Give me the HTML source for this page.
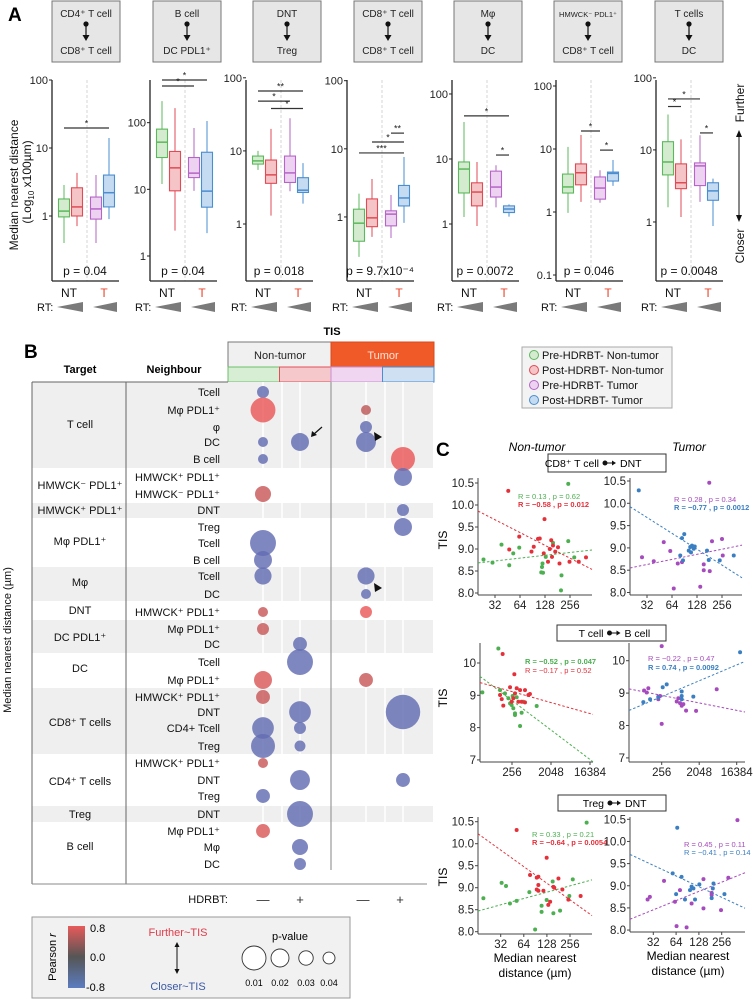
<!DOCTYPE html>
<html><head><meta charset="utf-8">
<style>
html,body{margin:0;padding:0;background:#fff;}
svg{display:block;font-family:"Liberation Sans",Arial,sans-serif;}
</style></head>
<body>
<svg id="fig" width="754" height="1000" viewBox="0 0 754 1000" xmlns="http://www.w3.org/2000/svg">
<g id="panelA"></g>
<g id="panelB"></g>
<g id="panelC"></g>
</svg>
<script>
// ===== Panel A data =====
const aHeaderTop = ["CD4⁺ T cell","B cell","DNT","CD8⁺ T cell","Mφ","HMWCK⁻ PDL1⁺","T cells"];
const aHeaderBottom = ["CD8⁺ T cell","DC PDL1⁺","Treg","CD8⁺ T cell","DC","CD8⁺ T cell","DC"];
const aPValues = ["p = 0.04","p = 0.04","p = 0.018","p = 9.7x10⁻⁴","p = 0.0072","p = 0.046","p = 0.0048"];
// log10 domain of each y axis [min,max]
const aLogDomain = [[-0.956,2.0],[-0.375,2.64],[-0.78,1.97],[-0.94,2.01],[-0.877,2.215],[-1.095,2.095],[-0.819,1.97]];
const aTicks = [[1,10,100],[1,10,100],[1,10,100],[1,10,100],[1,10,100],[0.1,1,10,100],[1,10,100]];
// boxes per panel: [low, q1, median, q3, high] for Pre-NT, Post-NT, Pre-T, Post-T
const aBoxes1 = [[0.40,0.97,1.18,1.78,2.86],[0.71,1.0,1.36,2.6,4.3],[0.40,0.9,1.27,1.9,4.0],[0.9,1.36,2.2,4.0,14]];
const aBoxes2 = [[12,30,51,80,210],[2.4,9.5,21,37,165],[9.5,15,17.5,30,83],[2.2,5.4,9.4,36,106]];
const aBoxes3 = [[5.5,6.6,7.3,8.5,10],[1.3,3.6,4.7,7.5,20],[2.8,3.7,5.0,8.5,28],[1.9,2.7,2.9,4.3,6.8]];
const aBoxes4 = [[0.26,0.44,0.81,1.3,2.2],[0.51,0.72,0.97,1.84,3.6],[0.49,0.74,1.1,1.23,2.1],[0.82,1.45,1.9,2.9,7.6]];
const aBoxes5 = [[1.28,3.0,7.0,9.0,37],[0.93,1.9,3.1,4.3,9.0],[1.8,2.6,3.7,6.5,8.0],[1.3,1.5,1.7,1.9,2.0]];
const aBoxes6 = [[0.97,2.0,2.5,4.0,10.8],[1.45,2.7,4.2,5.8,16.7],[1.4,1.6,2.4,3.6,4.6],[2.6,3.1,4.1,4.3,6.7]];
const aBoxes7 = [[1.6,4.5,6.8,13,31],[1.17,2.9,3.5,6.4,14],[1.9,3.2,6.0,6.6,16],[0.88,2.0,2.7,3.5,4.0]];
const aBoxes = [aBoxes1,aBoxes2,aBoxes3,aBoxes4,aBoxes5,aBoxes6,aBoxes7];
// significance bars: [fromGroup, toGroup, value, label]
const aSig = [
 [[0,3,19.7,"*"]],
 [[0,3,436,"*"],[0,2,355,"*"]],
 [[0,3,66,"**"],[0,2,48,"*"],[1,3,38,"*"]],
 [[2,3,17,"**"],[1,3,12.6,"*"],[0,3,8.7,"***"]],
 [[0,3,46,"*"],[2,3,11.5,"*"]],
 [[1,2,19.3,"*"],[2,3,9.6,"*"]],
 [[0,2,51,"*"],[0,1,40,"*"],[2,3,17.2,"*"]]
];

// ===== Panel B data =====
const bNeighbours = ["Tcell","Mφ PDL1⁺","φ","DC","B cell","HMWCK⁺ PDL1⁺","HMWCK⁻ PDL1⁺","DNT","Treg","Tcell","B cell","Tcell","DC","HMWCK⁺ PDL1⁺","Mφ PDL1⁺","DC","Tcell","Mφ PDL1⁺","HMWCK⁺ PDL1⁺","DNT","CD4+ Tcell","Treg","HMWCK⁺ PDL1⁺","DNT","Treg","DNT","Mφ PDL1⁺","Mφ","DC"];
const bTargets = ["T cell","HMWCK⁻ PDL1⁺","HMWCK⁺ PDL1⁺","Mφ PDL1⁺","Mφ","DNT","DC PDL1⁺","DC","CD8⁺ T cells","CD4⁺ T cells","Treg","B cell"];
const bBubbleRow = [0,1,1,2,3,3,3,4,4,5,6,7,8,9,10,11,11,12,13,13,14,15,16,17,17,18,19,19,20,20,21,21,22,23,23,24,25,26,27,28];
const bBubbleCol = [0,0,2,2,0,1,2,0,3,3,0,3,3,0,0,0,2,2,0,2,0,1,1,0,2,0,1,3,0,1,0,1,0,1,3,0,1,0,1,1];
const bBubbleR = [-0.7,0.8,0.55,-0.7,-0.7,-0.7,-0.7,-0.7,0.8,-0.7,0.6,-0.7,-0.7,-0.7,-0.7,-0.7,-0.7,-0.7,0.6,0.8,0.6,-0.7,-0.7,0.7,0.6,0.6,-0.7,-0.7,-0.7,-0.7,-0.7,-0.7,0.6,-0.7,-0.7,-0.7,-0.7,0.7,-0.7,-0.7];
const bBubbleP = [0.04,0.009,0.05,0.04,0.05,0.02,0.016,0.05,0.01,0.02,0.025,0.04,0.02,0.008,0.02,0.022,0.022,0.05,0.05,0.04,0.04,0.032,0.008,0.02,0.032,0.032,0.013,0.003,0.013,0.04,0.01,0.045,0.05,0.016,0.032,0.032,0.008,0.032,0.025,0.04];
const bLegendP = [0.01,0.02,0.03,0.04];

// ===== Panel C data (x as log2 of median nearest distance µm, y = TIS) =====
const c1GreenX = [4.54,4.9,5.26,5.57,5.73,5.97,6.88,6.9,6.92,6.85,7.32,7.03,7.93,7.93,7.66,7.64,8.17];
const c1GreenY = [8.76,8.69,9.1,8.63,8.9,9.03,8.59,8.67,8.46,8.47,9.14,8.82,10.48,9.18,8.4,8.06,8.81];
const c1RedX = [5.53,5.97,5.57,6.55,6.72,6.79,6.46,6.98,6.95,7.19,7.25,7.32,7.12,7.41,7.52,7.28,7.58,7.98,8.35,8.64];
const c1RedY = [10.32,9.28,8.99,9.05,9.23,9.24,8.94,9.68,8.9,9.0,9.2,9.08,8.71,8.94,9.04,8.82,8.67,8.71,8.71,8.81];
const c2PurpleX = [4.8,5.27,5.67,5.93,6.07,6.23,7.49,7.6,8.0,8.03,7.13,7.27,7.27,7.51,6.4];
const c2PurpleY = [8.79,8.7,9.13,8.93,8.09,8.65,10.46,9.15,9.2,8.83,8.13,8.63,8.5,8.48,8.68];
const c2BlueX = [4.67,6.4,6.49,6.67,6.73,6.8,6.87,6.91,6.76,6.44,6.33,7.4,7.47,7.91,8.47];
const c2BlueY = [10.29,9.22,9.31,8.94,9.02,9.05,8.98,9.03,8.9,8.72,8.83,8.94,8.73,8.72,8.83];
const c3GreenX = [6.95,5.72,7.08,7.46,7.85,7.97,8.10,8.23,8.23,8.62,8.74,8.87,9.90,8.36,8.05,7.72];
const c3GreenY = [10.45,9.09,9.16,9.06,8.75,8.70,8.60,8.39,8.44,8.05,8.46,8.80,8.67,8.94,8.98,8.91];
const c3RedX = [7.28,8.18,7.85,8.36,8.62,9.0,9.26,9.38,7.08,7.21,7.33,7.97,8.49,8.74,9.0,8.1,8.23];
const c3RedY = [10.28,9.65,9.25,9.22,9.16,9.16,9.01,9.04,9.01,8.88,8.68,8.8,8.8,8.8,8.78,8.91,9.06];
const c4PurpleX = [8.0,6.59,6.93,6.8,7.73,7.73,7.87,9.2,9.33,9.47,9.6,9.73,9.95,10.75,12.4,8.0];
const c4PurpleY = [10.45,9.08,9.15,9.02,8.81,8.89,8.91,8.74,8.84,8.69,8.61,8.66,8.46,8.45,9.12,8.05];
const c4BlueX = [14.27,8.4,8.08,6.53,7.07,7.73,9.6,9.6,10.53,9.6];
const c4BlueY = [10.26,9.27,9.18,8.72,8.81,8.87,9.05,8.91,8.89,8.81];
const c5GreenX = [4.25,5.04,5.23,5.4,5.69,6.24,6.77,6.77,6.99,7.25,7.28,7.57,8.12,7.97,8.72,6.49];
const c5GreenY = [8.76,9.11,9.04,8.64,8.7,8.9,8.59,8.45,8.72,9.14,8.42,8.48,9.19,8.81,10.48,8.05];
const c5RedX = [5.69,6.99,6.27,6.56,6.63,6.63,6.56,6.63,6.85,7.06,7.14,7.28,7.5,7.32,7.67,7.93,8.46];
const c5RedY = [10.31,9.68,9.29,9.23,9.25,9.06,8.96,8.93,8.93,8.61,8.68,9.02,9.21,9.0,8.96,8.73,8.81];
const c6PurpleX = [4.75,4.85,5.47,5.95,6.02,6.46,6.17,6.68,7.2,7.2,7.56,7.56,7.97,8.29,8.69];
const c6PurpleY = [8.69,8.75,9.11,8.64,8.09,8.06,8.9,8.6,9.15,8.49,8.84,8.79,8.45,9.18,10.48];
const c6BlueX = [6.05,5.85,6.24,6.0,6.39,6.61,6.68,6.76,6.83,7.02,7.64,7.61,7.56,8.12];
const c6BlueY = [10.31,9.28,9.2,8.81,8.69,8.9,8.98,8.94,8.69,9.03,9.05,8.94,8.72,8.81];
const cTicksA = [8.0,8.5,9.0,9.5,10.0,10.5];
const cTickLabelsA = ["8.0","8.5","9.0","9.5","10.0","10.5"];
const cTicksB = [7,8,9,10];
const cTickLabelsB = ["7","8","9","10"];
const cXTicksA = [5,6,7,8];
const cXTickLabelsA = ["32","64","128","256"];
const cXTicksB = [8,11,14];
const cXTickLabelsB = ["256","2048","16384"];

const NS = "http://www.w3.org/2000/svg";
function mk(tag, attrs, parent, txt){
  const e = document.createElementNS(NS, tag);
  for (const k in attrs) e.setAttribute(k, attrs[k]);
  if (txt !== undefined) e.textContent = txt;
  parent.appendChild(e);
  return e;
}
const gA = document.getElementById('panelA');
const gB = document.getElementById('panelB');
const gC = document.getElementById('panelC');

const COL = {
  green:{s:"#5cb85c",f:"#d4ebd0",d:"#3fa34a"},
  red:{s:"#e04b55",f:"#f5c4c7",d:"#e32b36"},
  purple:{s:"#b565c6",f:"#eed2f2",d:"#a64bbd"},
  blue:{s:"#4a8dd0",f:"#c4dbf1",d:"#3a7fc2"}
};
const groupCols = [COL.green, COL.red, COL.purple, COL.blue];

// ===== Panel A drawing =====
let t;
t = mk('text',{x:8,y:21,'font-size':19,'font-weight':'bold'},gA,"A");



const headerX = [52,153,253,354,454,554,655];
const axisX = [52,150,246,347,452,556,656];
const aTop = 80, aBot = 281, aW = 67;
const boxOff = [12,25,44,57];

for (let i=0;i<7;i++){
  const hx = headerX[i], cx = hx+34;
  const hg = mk('g',{},gA);
  
  
  mk('rect',{x:hx,y:1,width:68,height:61,fill:"#e6e6e6",stroke:"#777","stroke-width":1},hg);
  const fs = aHeaderTop[i].indexOf("HMWCK")===0 ? 7.5 : 10;
  mk('text',{x:cx,y:17,'font-size':fs,'text-anchor':'middle',fill:'#222'},hg,aHeaderTop[i]);
  mk('circle',{cx:cx,cy:24,r:2.6,fill:'#111'},hg);
  mk('line',{x1:cx,y1:24,x2:cx,y2:36,stroke:'#111','stroke-width':1.2},hg);
  mk('polygon',{points:(cx-3.5)+",35 "+(cx+3.5)+",35 "+cx+",41",fill:'#111'},hg);
  mk('text',{x:cx,y:54,'font-size':10,'text-anchor':'middle',fill:'#222'},hg,aHeaderBottom[i]);

  const ax = axisX[i];
  const dom = aLogDomain[i];
  const yS = v => aBot - (Math.log10(v)-dom[0])/(dom[1]-dom[0])*(aBot-aTop);
  const pg = mk('g',{},gA);
  
  
  mk('line',{x1:ax+35,y1:aTop,x2:ax+35,y2:aBot,stroke:'#ccc','stroke-width':0.8,'stroke-dasharray':'3,2'},pg);
  const yl = mk('line',{x1:ax,y1:aTop,x2:ax,y2:aBot,stroke:'#222','stroke-width':1.3},pg);
  
  
  const xl = mk('line',{x1:ax,y1:aBot,x2:ax+aW,y2:aBot,stroke:'#222','stroke-width':1.3},pg);
  
  
  aTicks[i].forEach(v=>{
    const y = yS(v);
    mk('line',{x1:ax-3,y1:y,x2:ax,y2:y,stroke:'#222','stroke-width':1},pg);
    const tl = mk('text',{x:ax-4,y:y+4,'font-size':11,'text-anchor':'end',fill:'#222'},pg,String(v));
    
    
  });
  aBoxes[i].forEach((b,j)=>{
    const c = groupCols[j], bx = ax+boxOff[j], w=11;
    const bg = mk('g',{},pg);
    
    
    mk('line',{x1:bx,y1:yS(b[0]),x2:bx,y2:yS(b[4]),stroke:c.s,'stroke-width':1},bg);
    mk('rect',{x:bx-w/2,y:yS(b[3]),width:w,height:Math.max(1,yS(b[1])-yS(b[3])),fill:c.f,stroke:c.s,'stroke-width':1.1},bg);
    mk('line',{x1:bx-w/2,y1:yS(b[2]),x2:bx+w/2,y2:yS(b[2]),stroke:c.s,'stroke-width':1.5},bg);
  });
  aSig[i].forEach(s=>{
    const y = yS(s[2]);
    const x1 = ax+boxOff[s[0]], x2 = ax+boxOff[s[1]];
    const sl = mk('line',{x1:x1,y1:y,x2:x2,y2:y,stroke:'#333','stroke-width':1.2},pg);
    
    
    mk('text',{x:(x1+x2)/2,y:y-1.5,'font-size':9,'text-anchor':'middle',fill:'#222'},pg,s[3]);
  });
  const pt = mk('text',{x:ax+33,y:275,'font-size':12,'text-anchor':'middle',fill:'#111'},pg,aPValues[i]);
  
  
  mk('text',{x:ax+17,y:297,'font-size':12,'text-anchor':'middle',fill:'#111'},pg,"NT");
  mk('text',{x:ax+52,y:297,'font-size':12,'text-anchor':'middle',fill:'#e8442a'},pg,"T");
  mk('text',{x:ax-15,y:311,'font-size':11,fill:'#111'},pg,"RT:");
  mk('polygon',{points:(ax+5)+",307 "+(ax+31)+",302 "+(ax+31)+",312",fill:'#7a7a7a'},pg);
  mk('polygon',{points:(ax+41)+",307 "+(ax+65)+",302 "+(ax+65)+",312",fill:'#7a7a7a'},pg);
}
t = mk('text',{transform:'translate(18,185) rotate(-90)','font-size':12,'text-anchor':'middle',fill:'#111'},gA,"Median nearest distance");


t = mk('text',{transform:'translate(31,182) rotate(-90)','font-size':12,'text-anchor':'middle',fill:'#111'},gA);
mk('tspan',{},t,"(Log");
mk('tspan',{'font-size':8,dy:3},t,"10");
mk('tspan',{dy:-3},t," x100µm)");


t = mk('text',{transform:'translate(744,103) rotate(-90)','font-size':12,'text-anchor':'middle',fill:'#111'},gA,"Further");


t = mk('text',{transform:'translate(744,246) rotate(-90)','font-size':12,'text-anchor':'middle',fill:'#111'},gA,"Closer");


mk('line',{x1:739,y1:136,x2:739,y2:216,stroke:'#111','stroke-width':1},gA);
mk('polygon',{points:"736,137 742,137 739,130",fill:'#111'},gA);
mk('polygon',{points:"736,215 742,215 739,222",fill:'#111'},gA);

// ===== Panel B drawing =====
t = mk('text',{x:24,y:358,'font-size':19,'font-weight':'bold'},gB,"B");


mk('text',{x:332,y:335,'font-size':11,'font-weight':'bold','text-anchor':'middle'},gB,"TIS");
let r;
r = mk('rect',{x:228,y:342,width:103,height:25,fill:'#f0f0f0',stroke:'#777'},gB);


mk('text',{x:280,y:359,'font-size':11,'text-anchor':'middle',fill:'#222'},gB,"Non-tumor");
r = mk('rect',{x:331,y:342,width:103,height:25,fill:'#f05a28',stroke:'#d84a1c'},gB);


mk('text',{x:383,y:359,'font-size':11,'text-anchor':'middle',fill:'#fde4d8'},gB,"Tumor");
const stripFill = ["#d8eed4","#f5c9cb","#f0d6f0","#cfe0f3"], stripStroke=["#6cbf6a","#e0505a","#c890d0","#4a8dd0"];
for (let k=0;k<4;k++){
  r = mk('rect',{x:228+k*51.5,y:367,width:51.5,height:15,fill:stripFill[k],stroke:stripStroke[k],'stroke-width':1},gB);
  
  
}
mk('text',{x:80,y:373,'font-size':11,'font-weight':'bold','text-anchor':'middle'},gB,"Target");
mk('text',{x:174,y:373,'font-size':11,'font-weight':'bold','text-anchor':'middle'},gB,"Neighbour");

const bandY = [[382,468],[468,503],[503,518],[518,567],[567,601],[601,620],[620,653],[653,688],[688,754],[754,806],[806,822],[822,884]];
const targetLabelY = [424,485,510,541,582,610,637,668,722,781,814,846];
const rowY = [392,410,427,442,459,477,494,510,527,543,560,576,594,612,629,644,662,680,697,712,728,746,763,780,796,814,831,847,864];
const colX = [263,300,366,403];
bandY.forEach((b,k)=>{
  if (k%2===0){
    r = mk('rect',{x:32,y:b[0],width:401,height:b[1]-b[0],fill:'#efefef'},gB);
    
    
    colX.forEach(x=>{ mk('line',{x1:x,y1:b[0],x2:x,y2:b[1],stroke:'#fff','stroke-width':1.5},gB); });
    [282,385].forEach(x=>{ mk('line',{x1:x,y1:b[0],x2:x,y2:b[1],stroke:'#fff','stroke-width':1.5},gB); });
  }
  const tl = mk('text',{x:80,y:targetLabelY[k]+4,'font-size':11,'text-anchor':'middle',fill:'#111'},gB,bTargets[k]);
  
  
});
rowY.forEach((y,k)=>{
  const nl = mk('text',{x:220,y:y+4,'font-size':11,'text-anchor':'end',fill:'#111'},gB,bNeighbours[k]);
  
  
});
mk('line',{x1:32,y1:382,x2:32,y2:884,stroke:'#666','stroke-width':1},gB);
mk('line',{x1:32,y1:382,x2:228,y2:382,stroke:'#666','stroke-width':1},gB);
mk('line',{x1:126,y1:382,x2:126,y2:884,stroke:'#666','stroke-width':1},gB);
mk('line',{x1:32,y1:884,x2:427,y2:884,stroke:'#888','stroke-width':1},gB);
mk('line',{x1:331,y1:382,x2:331,y2:870,stroke:'#999','stroke-width':1.2},gB);

function lerp(a,b,t){return Math.round(a+(b-a)*t);}
function pearsonColor(v){
  const t = Math.min(1,Math.abs(v)/0.8);
  const g=[90,88,92];
  const c = v>=0 ? [236,88,88] : [100,112,190];
  return "rgb("+lerp(g[0],c[0],t)+","+lerp(g[1],c[1],t)+","+lerp(g[2],c[2],t)+")";
}
function pRadius(p){ return 12 + 10*(-Math.log10(p)-2); }
bBubbleRow.forEach((row,k)=>{
  const c = mk('circle',{cx:colX[bBubbleCol[k]],cy:rowY[row],r:pRadius(bBubbleP[k]),fill:pearsonColor(bBubbleR[k]),'fill-opacity':0.82},gB);
  
  
});
mk('line',{x1:322,y1:427,x2:314,y2:434,stroke:'#111','stroke-width':1.2},gB);
mk('polygon',{points:"311,437 312,431 317,435",fill:'#111'},gB);
mk('polygon',{points:"374,432 382,437 375,441",fill:'#111'},gB);
mk('polygon',{points:"374,583 382,588 375,592",fill:'#111'},gB);
mk('text',{x:228,y:903,'font-size':11,'text-anchor':'end',fill:'#111'},gB,"HDRBT:");
["—","+","—","+"].forEach((s,k)=>{ mk('text',{x:colX[k]-(k>1?3:0),y:904,'font-size':13,'text-anchor':'middle',fill:'#333'},gB,s); });
t = mk('text',{transform:'translate(11,640) rotate(-90)','font-size':11,'text-anchor':'middle',fill:'#111'},gB,"Median nearest distance (µm)");


const lg = mk('g',{},gB);


mk('rect',{x:32,y:917,width:318,height:81,fill:'#f1f1f1',stroke:'#999'},lg);
const defs = mk('defs',{},document.getElementById('fig'));
const grad = mk('linearGradient',{id:'pgrad',x1:0,y1:0,x2:0,y2:1},defs);
mk('stop',{offset:'0','stop-color':'#e85a5a'},grad);
mk('stop',{offset:'0.5','stop-color':'#555555'},grad);
mk('stop',{offset:'1','stop-color':'#5b7cc0'},grad);
const cb = mk('rect',{x:68,y:926,width:17,height:62,fill:'url(#pgrad)'},lg);


mk('text',{x:90,y:932,'font-size':11},lg,"0.8");
mk('text',{x:90,y:961,'font-size':11},lg,"0.0");
mk('text',{x:86,y:991,'font-size':11},lg,"-0.8");
t = mk('text',{transform:'translate(56,957) rotate(-90)','font-size':11,'text-anchor':'middle'},lg);
mk('tspan',{},t,"Pearson ");
mk('tspan',{'font-style':'italic'},t,"r");
mk('text',{x:178,y:936,'font-size':11,'text-anchor':'middle',fill:'#e03c4a'},lg,"Further~TIS");
mk('text',{x:178,y:990,'font-size':11,'text-anchor':'middle',fill:'#3a5aa8'},lg,"Closer~TIS");
mk('line',{x1:177,y1:946,x2:177,y2:970,stroke:'#111','stroke-width':1},lg);
mk('polygon',{points:"174.5,947 179.5,947 177,942",fill:'#111'},lg);
mk('polygon',{points:"174.5,969 179.5,969 177,974",fill:'#111'},lg);
mk('text',{x:290,y:940,'font-size':11,'text-anchor':'middle'},lg,"p-value");
const legX = [254,280,306,329];
bLegendP.forEach((p,k)=>{
  const c = mk('circle',{cx:legX[k],cy:958,r:pRadius(p),fill:'#fff',stroke:'#333','stroke-width':0.9},lg);
  
  
  mk('text',{x:legX[k],y:986,'font-size':9,'text-anchor':'middle'},lg,p.toFixed(2));
});

const gl = mk('g',{},gB);


mk('rect',{x:522,y:347,width:150,height:61,fill:'#f3f3f3',stroke:'#aaa'},gl);
const legNames = ["Pre-HDRBT- Non-tumor","Post-HDRBT- Non-tumor","Pre-HDRBT- Tumor","Post-HDRBT- Tumor"];
legNames.forEach((n,k)=>{
  const c = groupCols[k];
  mk('circle',{cx:534,cy:355+k*15,r:4.5,fill:c.f,stroke:c.s,'stroke-width':1},gl);
  mk('text',{x:542,y:359+k*15,'font-size':11,fill:'#111'},gl,n);
});

// ===== Panel C drawing =====
t = mk('text',{x:436,y:456,'font-size':19,'font-weight':'bold'},gC,"C");


mk('text',{x:537,y:451,'font-size':12,'font-style':'italic','text-anchor':'middle'},gC,"Non-tumor");
mk('text',{x:689,y:451,'font-size':12,'font-style':'italic','text-anchor':'middle'},gC,"Tumor");
function pairBox(x,y,w,h,a,b,name){
  const g = mk('g',{},gC);
  
  
  mk('rect',{x:x,y:y,width:w,height:h,fill:'#fff',stroke:'#333','stroke-width':1},g);
  const cx = x+w/2;
  mk('text',{x:cx-8,y:y+h/2+4,'font-size':10.5,'text-anchor':'end'},g,a);
  mk('circle',{cx:cx-2,cy:y+h/2,r:2.5,fill:'#111'},g);
  mk('line',{x1:cx-2,y1:y+h/2,x2:cx+6,y2:y+h/2,stroke:'#111'},g);
  mk('polygon',{points:(cx+5)+","+(y+h/2-2.5)+" "+(cx+5)+","+(y+h/2+2.5)+" "+(cx+9)+","+(y+h/2),fill:'#111'},g);
  mk('text',{x:cx+13,y:y+h/2+4,'font-size':10.5},g,b);
}
pairBox(548,454,118,18,"CD8⁺ T cell","DNT","pair-label-cd8-dnt");
pairBox(557,625,109,16,"T cell","B cell","pair-label-tcell-bcell");
pairBox(558,795,108,16,"Treg","DNT","pair-label-treg-dnt");

function scatter(cfg){
  const g = mk('g',{},gC);
  
  
  const X = l => cfg.xb + (l-cfg.xl)*cfg.xk;
  const Y = v => cfg.yb + (cfg.yv-v)*cfg.yk;
  const ya = mk('line',{x1:cfg.x0,y1:cfg.y0,x2:cfg.x0,y2:cfg.y1,stroke:'#444','stroke-width':1},g);
  
  
  const xa = mk('line',{x1:cfg.x0,y1:cfg.y1,x2:cfg.x1,y2:cfg.y1,stroke:'#444','stroke-width':1},g);
  
  
  cfg.yt.forEach((v,k)=>{
    const y=Y(v);
    mk('line',{x1:cfg.x0-3,y1:y,x2:cfg.x0,y2:y,stroke:'#444'},g);
    const tl = mk('text',{x:cfg.x0-4,y:y+4,'font-size':11.5,'text-anchor':'end',fill:'#222'},g,cfg.ytl[k]);
    
    
  });
  cfg.xt.forEach((v,k)=>{
    const x=X(v);
    mk('line',{x1:x,y1:cfg.y1,x2:x,y2:cfg.y1+3,stroke:'#444'},g);
    const tl = mk('text',{x:x,y:cfg.y1+14,'font-size':11.5,'text-anchor':'middle',fill:'#222'},g,cfg.xtl[k]);
    
    
  });
  const xl0 = (cfg.x0 - cfg.xb)/cfg.xk + cfg.xl, xl1 = (cfg.x1 - cfg.xb)/cfg.xk + cfg.xl;
  cfg.series.forEach(s=>{
    const n=s.x.length; let mx=0,my=0;
    for(let i=0;i<n;i++){mx+=s.x[i];my+=s.y[i];}
    mx/=n;my/=n; let sxy=0,sxx=0;
    for(let i=0;i<n;i++){sxy+=(s.x[i]-mx)*(s.y[i]-my);sxx+=(s.x[i]-mx)*(s.x[i]-mx);}
    const b=sxy/sxx, a=my-b*mx;
    const fl = mk('line',{x1:X(xl0),y1:Y(a+b*xl0),x2:X(xl1),y2:Y(a+b*xl1),stroke:s.c,'stroke-width':1,'stroke-dasharray':'2.5,2'},g);
    
    
    for(let i=0;i<n;i++){
      const p = mk('circle',{cx:X(s.x[i]),cy:Y(s.y[i]),r:2,fill:s.c},g);
      
      
    }
  });
  cfg.stats.forEach(st=>{
    mk('text',{x:st[0],y:st[1],'font-size':7.5,fill:st[2],'font-weight':st[4]?'bold':'normal'},g,st[3]);
  });
}
const cG="#4caf50", cR="#e5303a", cP="#a64bbd", cB="#3a7fc2";
scatter({name:'scatter-cd8-dnt-nontumor',x0:478,x1:592,y0:478,y1:595,xb:495,xl:5,xk:25,yb:483,yv:10.5,yk:44,
  yt:cTicksA,ytl:cTickLabelsA,xt:cXTicksA,xtl:cXTickLabelsA,
  series:[{x:c1GreenX,y:c1GreenY,c:cG,n:'pre'},{x:c1RedX,y:c1RedY,c:cR,n:'post'}],
  stats:[[518,499,cG,"R = 0.13 , p = 0.62",false],[518,507,cR,"R = −0.58 , p = 0.012",true]]});
scatter({name:'scatter-cd8-dnt-tumor',x0:630,x1:742,y0:478,y1:595,xb:647,xl:5,xk:25,yb:481,yv:10.5,yk:44.6,
  yt:cTicksA,ytl:cTickLabelsA,xt:cXTicksA,xtl:cXTickLabelsA,
  series:[{x:c2PurpleX,y:c2PurpleY,c:cP,n:'pre'},{x:c2BlueX,y:c2BlueY,c:cB,n:'post'}],
  stats:[[674,502,cP,"R = 0.28 , p = 0.34",false],[674,510,cB,"R = −0.77 , p = 0.0012",true]]});
scatter({name:'scatter-tcell-bcell-nontumor',x0:480,x1:593,y0:643,y1:762,xb:512,xl:8,xk:13,yb:663,yv:10,yk:32.3,
  yt:cTicksB,ytl:cTickLabelsB,xt:cXTicksB,xtl:cXTickLabelsB,
  series:[{x:c3GreenX,y:c3GreenY,c:cG,n:'pre'},{x:c3RedX,y:c3RedY,c:cR,n:'post'}],
  stats:[[525,664,cG,"R = −0.52 , p = 0.047",true],[525,673,cR,"R = −0.17 , p = 0.52",false]]});
scatter({name:'scatter-tcell-bcell-tumor',x0:629,x1:745,y0:643,y1:762,xb:661.7,xl:8,xk:12.5,yb:660.7,yv:10,yk:32.4,
  yt:cTicksB,ytl:cTickLabelsB,xt:cXTicksB,xtl:cXTickLabelsB,
  series:[{x:c4PurpleX,y:c4PurpleY,c:cP,n:'pre'},{x:c4BlueX,y:c4BlueY,c:cB,n:'post'}],
  stats:[[648,661,cP,"R = −0.22 , p = 0.47",false],[648,670,cB,"R = 0.74 , p = 0.0092",true]]});
scatter({name:'scatter-treg-dnt-nontumor',x0:478,x1:592,y0:817,y1:934,xb:500.7,xl:5,xk:23.1,yb:821.7,yv:10.5,yk:44,
  yt:cTicksA,ytl:cTickLabelsA,xt:cXTicksA,xtl:cXTickLabelsA,
  series:[{x:c5GreenX,y:c5GreenY,c:cG,n:'pre'},{x:c5RedX,y:c5RedY,c:cR,n:'post'}],
  stats:[[532,837,cG,"R = 0.33 , p = 0.21",false],[532,845,cR,"R = −0.64 , p = 0.0054",true]]});
scatter({name:'scatter-treg-dnt-tumor',x0:630,x1:745,y0:817,y1:932,xb:653.3,xl:5,xk:22.8,yb:819.3,yv:10.5,yk:44.3,
  yt:cTicksA,ytl:cTickLabelsA,xt:cXTicksA,xtl:cXTickLabelsA,
  series:[{x:c6PurpleX,y:c6PurpleY,c:cP,n:'pre'},{x:c6BlueX,y:c6BlueY,c:cB,n:'post'}],
  stats:[[684,847,cP,"R = 0.45 , p = 0.11",false],[684,855,cB,"R = −0.41 , p = 0.14",false]]});
[[447,540],[447,698],[447,877]].forEach(p=>{
  const tt = mk('text',{transform:'translate('+p[0]+','+p[1]+') rotate(-90)','font-size':12,'text-anchor':'middle'},gC,"TIS");
  
  
});
[[535,962],[688,960]].forEach(p=>{
  const tt = mk('text',{x:p[0],y:p[1],'font-size':12,'text-anchor':'middle'},gC,"Median nearest");
  
  
  mk('text',{x:p[0],y:p[1]+15,'font-size':12,'text-anchor':'middle'},gC,"distance (µm)");
});
</script>
</body></html>
